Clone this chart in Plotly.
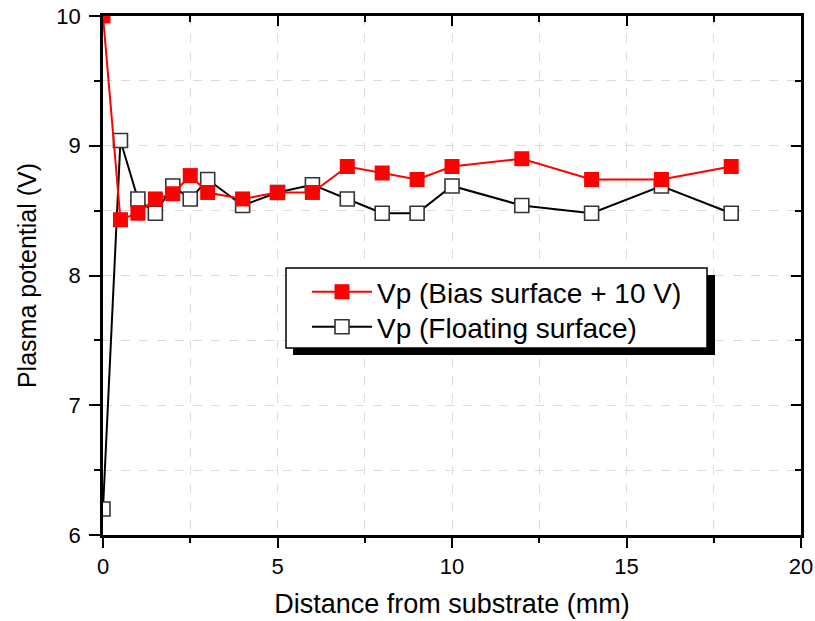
import plotly.graph_objects as go

# Data
x_bias = [0, 0.5, 1, 1.5, 2, 2.5, 3, 4, 5, 6, 7, 8, 9, 10, 12, 14, 16, 18]
vp_bias = [10.0, 8.43, 8.48, 8.59, 8.63, 8.77, 8.64, 8.59, 8.64, 8.64, 8.84, 8.79, 8.74, 8.84, 8.90, 8.74, 8.74, 8.84]

x_float = [0, 0.5, 1, 1.5, 2, 2.5, 3, 4, 5, 6, 7, 8, 9, 10, 12, 14, 16, 18]
vp_float = [6.20, 9.04, 8.59, 8.48, 8.69, 8.59, 8.74, 8.54, 8.64, 8.70, 8.59, 8.48, 8.48, 8.69, 8.54, 8.48, 8.69, 8.48]

name_bias = "Vp (Bias surface + 10 V)"
name_float = "Vp (Floating surface)"
x_title = "Distance from substrate (mm)"
y_title = "Plasma potential (V)"
x_range = [0, 20]
y_range = [6, 10]

W, H = 815, 621
L, R, T, B = 103, 14, 16, 86
pw, ph = W - L - R, H - T - B

def px2paper(px, py):
    return (px - L) / pw, (H - B - py) / ph

FONT = "Liberation Sans, Arial, sans-serif"

fig = go.Figure()
fig.add_trace(go.Scatter(
    x=x_float, y=vp_float, name=name_float, mode="lines+markers", legend="legend2",
    line=dict(color="black", width=2),
    marker=dict(symbol="square", size=14, color="white", line=dict(color="#333333", width=1.6)),
))
fig.add_trace(go.Scatter(
    x=x_bias, y=vp_bias, name=name_bias, mode="lines+markers", legend="legend",
    line=dict(color="#ff0000", width=2),
    marker=dict(symbol="square", size=15, color="#ff0000", line=dict(color="#ff0000", width=0)),
))
# dummy trace for mirrored (inward) tick axes
fig.add_trace(go.Scatter(x=[None], y=[None], xaxis="x2", yaxis="y2", showlegend=False, hoverinfo="skip"))

grid = dict(showgrid=True, gridcolor="#dcdcdc", griddash="dash", gridwidth=1)

leg_common = dict(xanchor="left", yanchor="middle", bgcolor="rgba(0,0,0,0)", borderwidth=0,
                  font=dict(size=28, family=FONT, color="black"), itemwidth=60)
lx, ly1 = px2paper(307, 292)
_, ly2 = px2paper(307, 327)

fig.update_layout(
    width=W, height=H,
    margin=dict(l=L, r=R, t=T, b=B, autoexpand=False),
    paper_bgcolor="white", plot_bgcolor="white",
    font=dict(family=FONT, color="black"),
    showlegend=True,
    legend=dict(x=lx, y=ly1, **leg_common),
    legend2=dict(x=lx, y=ly2, **leg_common),
    xaxis=dict(
        range=x_range, dtick=5, tick0=0, ticks="outside", ticklen=10, tickwidth=2,
        tickcolor="black", showline=True, linecolor="black", linewidth=2.5, mirror=True,
        zeroline=False, tickfont=dict(size=22), automargin=False, **grid,
        minor=dict(dtick=2.5, ticks="outside", ticklen=5, tickwidth=2, tickcolor="black",
                   showgrid=True, gridcolor="#dcdcdc", griddash="dash"),
        title=dict(text=x_title, font=dict(size=27), standoff=16),
    ),
    yaxis=dict(
        range=y_range, dtick=1, tick0=0, ticks="outside", ticklen=11, tickwidth=2,
        tickcolor="black", showline=True, linecolor="black", linewidth=2.5, mirror=True,
        zeroline=False, tickfont=dict(size=22), automargin=False, ticklabelstandoff=4, **grid,
        minor=dict(dtick=0.5, ticks="outside", ticklen=6, tickwidth=2, tickcolor="black",
                   showgrid=True, gridcolor="#dcdcdc", griddash="dash"),
        title=dict(text=y_title, font=dict(size=25), standoff=13),
    ),
    xaxis2=dict(
        overlaying="x", side="top", range=x_range, dtick=5, tick0=0, ticks="inside",
        ticklen=10, tickwidth=2, tickcolor="black", showticklabels=False, showgrid=False,
        zeroline=False, showline=False, automargin=False,
        minor=dict(dtick=2.5, ticks="inside", ticklen=6, tickwidth=2, tickcolor="black", showgrid=False),
    ),
    yaxis2=dict(
        overlaying="y", side="right", range=y_range, dtick=1, tick0=0, ticks="inside",
        ticklen=10, tickwidth=2, tickcolor="black", showticklabels=False, showgrid=False,
        zeroline=False, showline=False, automargin=False,
        minor=dict(dtick=0.5, ticks="inside", ticklen=6, tickwidth=2, tickcolor="black", showgrid=False),
    ),
)

# legend shadow and box
sx0, sy0 = px2paper(293, 275)
sx1, sy1 = px2paper(715, 355)
fig.add_shape(type="rect", xref="paper", yref="paper", x0=sx0, y0=sy1, x1=sx1, y1=sy0,
              fillcolor="black", line=dict(width=0), layer="above")
bx0, by0 = px2paper(286, 268)
bx1, by1 = px2paper(707, 348)
fig.add_shape(type="rect", xref="paper", yref="paper", x0=bx0, y0=by1, x1=bx1, y1=by0,
              fillcolor="white", line=dict(color="black", width=1.5), layer="above")

fig.write_html("out.html")
